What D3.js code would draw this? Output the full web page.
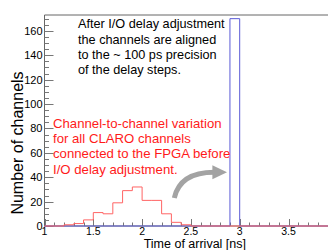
<!DOCTYPE html>
<html>
<head>
<meta charset="utf-8">
<script src="https://cdn.jsdelivr.net/npm/d3@7"></script>
<style>
  body { margin: 0; background: #fff; }
  svg { display: block; font-family: "Liberation Sans", Arial, sans-serif; }
</style>
</head>
<body>
<div id="chart"></div>
<script>
const w = 328;
const h = 250;

// histogram bins (lower edges, 0.1 ns wide)
const binLow = [1.0, 1.1, 1.2, 1.3, 1.4, 1.5, 1.6, 1.7, 1.8, 1.9,
                2.0, 2.1, 2.2, 2.3, 2.4, 2.5, 2.6, 2.7, 2.8, 2.9,
                3.0, 3.1, 3.2, 3.3, 3.4, 3.5, 3.6, 3.7, 3.8, 3.9];
const binHigh = 4.0;

// before I/O delay adjustment (red)
const beforeCounts = [0, 0, 1, 2, 5, 11, 10, 19, 29, 32,
                      21, 21, 10, 3, 1, 0, 0, 0, 0, 0,
                      0, 0, 0, 0, 0, 0, 0, 0, 0, 0];
// after I/O delay adjustment (blue)
const afterCounts = [0, 0, 0, 0, 0, 0, 0, 0, 0, 0,
                     0, 0, 0, 0, 0, 0, 0, 0, 0, 170,
                     0, 0, 0, 0, 0, 0, 0, 0, 0, 0];

const xTicks = [1, 1.5, 2, 2.5, 3, 3.5];
const yTicks = [0, 20, 40, 60, 80, 100, 120, 140, 160];

const blackNote = ["After I/O delay adjustment",
                   "the channels are aligned",
                   "to the ~ 100 ps precision",
                   "of the delay steps."];
const redNote = ["Channel-to-channel variation",
                 "for all CLARO channels",
                 "connected to the FPGA before",
                 "I/O delay adjustment."];

const margin = {top: 15, left: 44.5, bottom: 24};

const svg = d3.select("#chart").append("svg").attr("width", w).attr("height", h);

const x = d3.scaleLinear().domain([1, 4]).range([margin.left, margin.left + 3 * 97.6]);
const y = d3.scaleLinear().domain([0, 173]).range([h - margin.bottom, margin.top]);

const x0 = x.range()[0], x1 = x.range()[1];
const y0 = y.range()[0], y1 = y.range()[1];

//frame
svg.append("line").attr("x1", x0).attr("x2", x0).attr("y1", y0).attr("y2", y1).attr("stroke", "#666");
svg.append("line").attr("x1", x0).attr("x2", x1).attr("y1", y1).attr("y2", y1).attr("stroke", "#666");
svg.append("line").attr("x1", x0).attr("x2", x1).attr("y1", y0).attr("y2", y0).attr("stroke", "#666");

//y ticks (inward)
const yMinor = d3.range(0, 171, 5);
svg.append("g").selectAll("line").data(yMinor).enter().append("line")
    .attr("x1", x0).attr("x2", d => x0 + (d % 20 === 0 ? 9 : 4.5))
    .attr("y1", d => Math.round(y(d)) + 0.5).attr("y2", d => Math.round(y(d)) + 0.5)
    .attr("stroke", "#777");
svg.append("g").selectAll("text").data(yTicks).enter().append("text")
    .attr("x", x0 - 2).attr("y", d => y(d) + 4)
    .attr("text-anchor", "end").style("font-size", "11px").text(d => d);

//x ticks (inward)
const xMinor = d3.range(10, 40).map(d => d / 10);
svg.append("g").selectAll("line").data(xMinor).enter().append("line")
    .attr("x1", d => Math.round(x(d)) + 0.5).attr("x2", d => Math.round(x(d)) + 0.5)
    .attr("y1", y0).attr("y2", d => y0 - (Math.abs(d * 2 - Math.round(d * 2)) < 1e-6 ? 7 : 3.5))
    .attr("stroke", "#777");
svg.append("g").selectAll("text").data(xTicks).enter().append("text")
    .attr("x", d => x(d)).attr("y", y0 + 8.5)
    .attr("text-anchor", "middle").style("font-size", "10.5px").text(d => d);

//axis titles
svg.append("text").attr("x", 246).attr("y", 248).attr("text-anchor", "end")
    .style("font-size", "12.5px").text("Time of arrival [ns]");
svg.append("text").attr("transform", "translate(23," + 143 + ") rotate(-90)")
    .attr("text-anchor", "middle").style("font-size", "16px").text("Number of channels");

//histograms as steps
const stepLine = d3.line().x(d => x(d[0])).y(d => y(d[1])).curve(d3.curveStepAfter);
function steps(counts) {
    const pts = [[binLow[0], 0]];
    binLow.forEach((b, i) => pts.push([b, counts[i]]));
    pts.push([binHigh, counts[counts.length - 1]]);
    return pts;
}
svg.append("path").attr("d", stepLine(steps(afterCounts)))
    .attr("fill", "none").attr("stroke", "#5a5ad6").attr("stroke-width", 1);
svg.append("path").attr("d", stepLine(steps(beforeCounts)))
    .attr("fill", "none").attr("stroke", "#ff6464").attr("stroke-width", 1);

//notes
svg.append("text").selectAll("tspan").data(blackNote).enter().append("tspan")
    .attr("x", x(1.343)).attr("y", (d, i) => y(162) + i * 15.2)
    .style("font-size", "12.7px").attr("fill", "#000").text(d => d);
svg.append("text").selectAll("tspan").data(redNote).enter().append("tspan")
    .attr("x", x(1.087)).attr("y", (d, i) => y(80.4) + i * 15.2)
    .style("font-size", "13.2px").attr("fill", "#ff1a1a").text(d => d);

//curved arrow
svg.append("path")
    .attr("d", "M" + x(2.33) + "," + y(23) + " Q" + x(2.39) + "," + y(44) + " " + x(2.74) + "," + y(44))
    .attr("fill", "none").attr("stroke", "#a3a3a3").attr("stroke-width", 5);
svg.append("path")
    .attr("d", "M" + x(2.72) + "," + (y(44) - 7) + " L" + x(2.87) + "," + y(44) + " L" + x(2.72) + "," + (y(44) + 7) + "Z")
    .attr("fill", "#a3a3a3");
</script>
</body>
</html>
